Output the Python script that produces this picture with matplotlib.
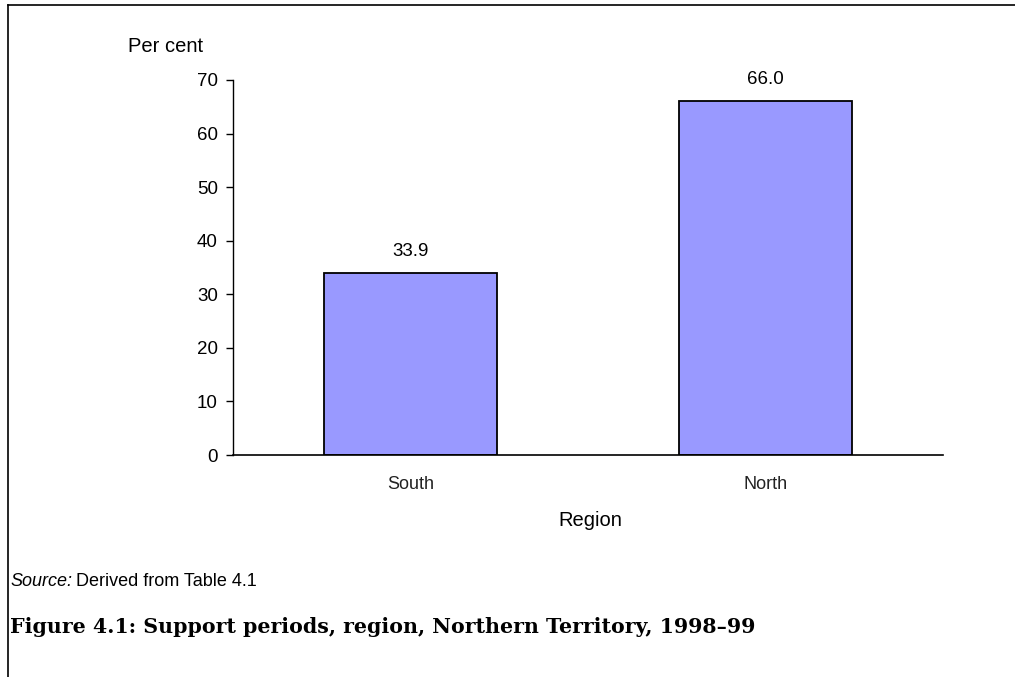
import matplotlib
matplotlib.use("Agg")
import matplotlib.pyplot as plt
from matplotlib.lines import Line2D

regions = ["South", "North"]
percent = [33.9, 66.0]
yticks = [0, 10, 20, 30, 40, 50, 60, 70]

plt.rcParams["font.family"] = ["Liberation Sans", "DejaVu Sans"]

fig = plt.figure(figsize=(10.15, 6.77), dpi=100)
W, H = 1015, 677

# plotting area: x 233..943 px, y 80..455 px
ax = fig.add_axes([233 / W, 1 - 455 / H, 710 / W, 375 / H])
x = range(len(regions))
bars = ax.bar(x, percent, width=0.49, color="#9999FF", edgecolor="black", linewidth=1.3)
ax.set_xlim(-0.5, 1.5)
ax.set_ylim(0, 70)
ax.set_yticks(yticks)
ax.set_xticks(list(x))
ax.set_xticklabels(regions)
ax.tick_params(axis="y", length=5, width=1, pad=6, labelsize=13.5)
ax.tick_params(axis="x", length=0, pad=15, labelsize=13, labelcolor="#222222")
for s in ["top", "right"]:
    ax.spines[s].set_visible(False)
ax.spines["left"].set_linewidth(1)
ax.spines["bottom"].set_linewidth(1.2)

for b, v in zip(bars, percent):
    ax.annotate(f"{v:.1f}", (b.get_x() + b.get_width() / 2, v),
                xytext=(0, 10), textcoords="offset points",
                ha="center", va="bottom", fontsize=13.5)

fig.text(166 / W, 1 - 47 / H, "Per cent", ha="center", va="center", fontsize=14.5)
fig.text(590 / W, 1 - 520 / H, "Region", ha="center", va="center", fontsize=14.5)

# source note: italic lead-in followed by plain text
lead = fig.text(10 / W, 1 - 582 / H, "Source:", ha="left", va="center",
                fontsize=13, style="italic")
fig.canvas.draw()
bb = lead.get_window_extent()
fig.text((bb.x1 + 4) / W, 1 - 582 / H, "Derived from Table 4.1", ha="left", va="center",
         fontsize=13)

fig.text(10 / W, 1 - 627 / H, "Figure 4.1: Support periods, region, Northern Territory, 1998\u201399",
         ha="left", va="center", fontsize=14.8, fontweight="bold", family=["DejaVu Serif"])

# page frame: top and left rules
fig.add_artist(Line2D([8 / W, 1.0], [1 - 5 / H, 1 - 5 / H], color="black", lw=1.2, transform=fig.transFigure))
fig.add_artist(Line2D([8 / W, 8 / W], [1 - 5 / H, 0], color="black", lw=1.2, transform=fig.transFigure))

fig.savefig("out.png", dpi=100)
